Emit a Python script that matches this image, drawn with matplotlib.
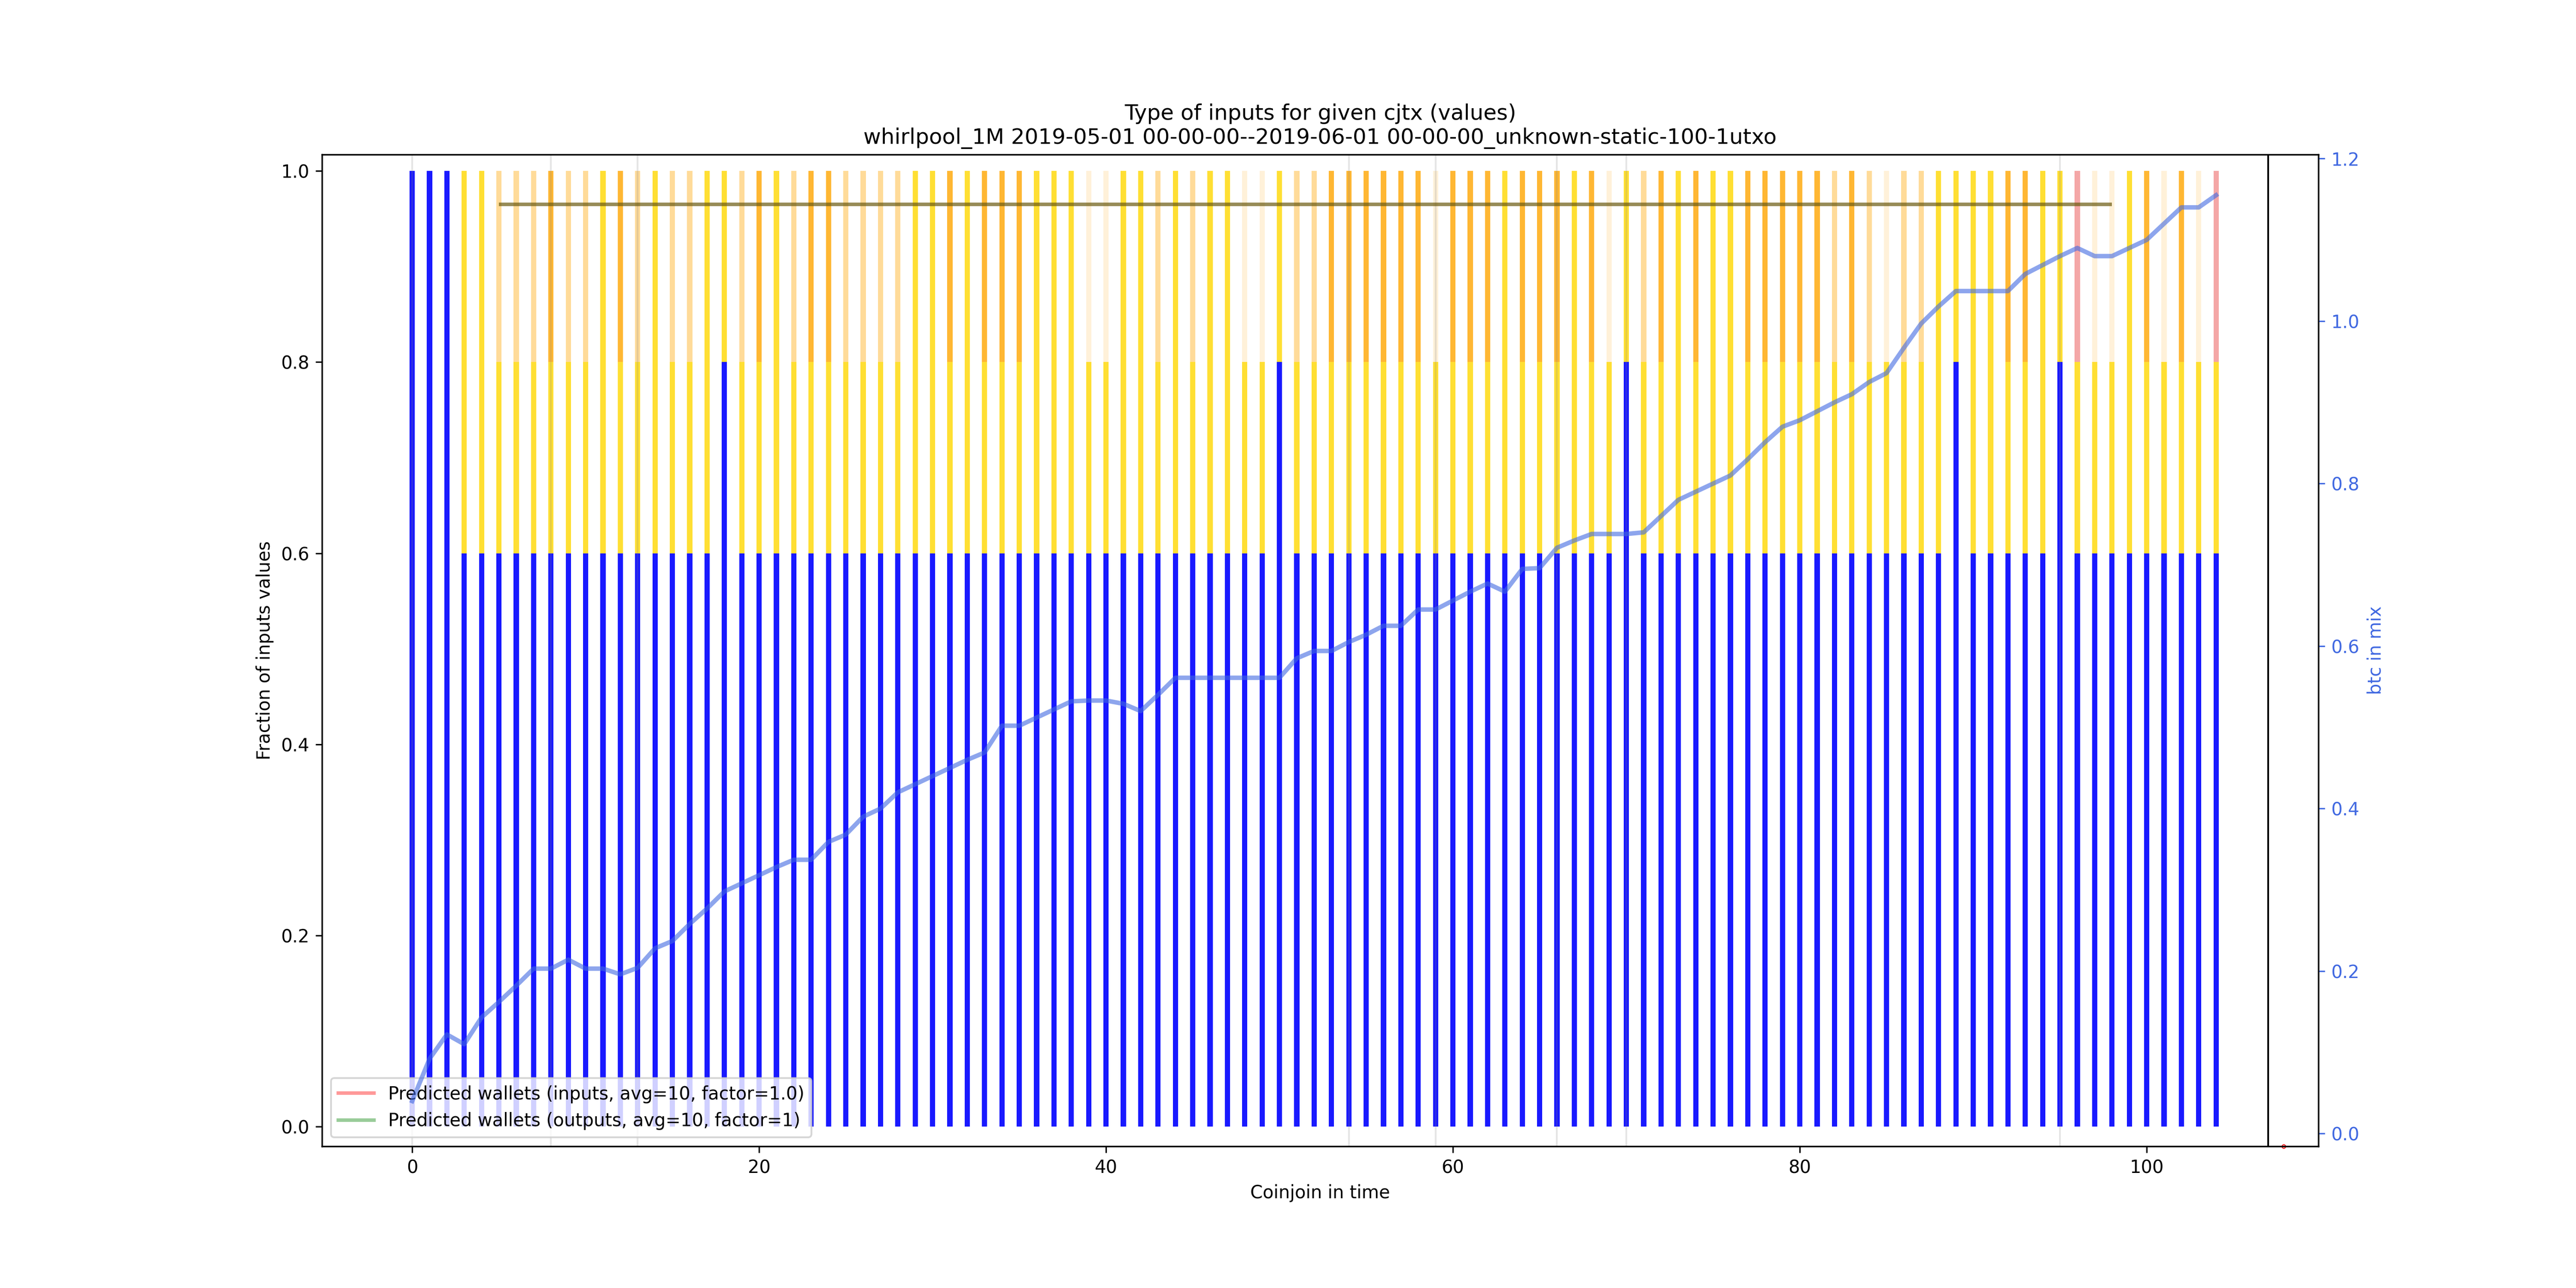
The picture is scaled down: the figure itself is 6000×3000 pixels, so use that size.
import numpy as np
import matplotlib
matplotlib.use('Agg')
import matplotlib.pyplot as plt

################################## DATA ##################################

title = ('Type of inputs for given cjtx (values)\n'
         'whirlpool_1M 2019-05-01 00-00-00--2019-06-01 00-00-00_unknown-static-100-1utxo')

# coinjoin index
cjtx = np.arange(105)

# fraction of blue (remix) inputs per coinjoin
blue_frac = [0.6] * 105
for i in (0, 1, 2):
    blue_frac[i] = 1.0
for i in (18, 50, 70, 89, 95):
    blue_frac[i] = 0.8

# colour class of the top part of each bar (B = none, G = gold, L = light orange,
# O = orange, P = very light orange, R = pink)
top_class = ("BBBGGLLLOLLGOLGLLGGLOGLOOL"
             "LLLGGOGOOOGGGPPGGLGLGGPPGLL"
             "OOOOOOPOOOGOOOGOPGLOGOGGOO"
             "OOOLOLPLLGGGGOOGGRPPGOPOPR")

# btc in mix (right axis)
btc_in_mix = [0.04, 0.092, 0.122, 0.110, 0.143, 0.162, 0.182, 0.203, 0.203, 0.214,
              0.203, 0.203, 0.196, 0.204, 0.228, 0.237, 0.258, 0.277, 0.298, 0.308,
              0.318, 0.328, 0.337, 0.337, 0.359, 0.368, 0.390, 0.400, 0.420, 0.430,
              0.440, 0.450, 0.460, 0.469, 0.502, 0.502, 0.512, 0.522, 0.532, 0.533,
              0.533, 0.529, 0.520, 0.540, 0.561, 0.561, 0.561, 0.561, 0.561, 0.561,
              0.561, 0.585, 0.594, 0.594, 0.605, 0.614, 0.625, 0.625, 0.645, 0.645,
              0.656, 0.667, 0.677, 0.667, 0.695, 0.696, 0.721, 0.730, 0.738, 0.738,
              0.738, 0.740, 0.760, 0.780, 0.790, 0.800, 0.810, 0.830, 0.851, 0.870,
              0.878, 0.889, 0.900, 0.910, 0.925, 0.936, 0.967, 0.997, 1.018, 1.037,
              1.037, 1.037, 1.037, 1.058, 1.069, 1.080, 1.090, 1.080, 1.080, 1.090,
              1.100, 1.120, 1.140, 1.140, 1.155]

# coinjoins marked with thin grey lines
marked_cjtx = [0, 8, 13, 54, 59, 66, 70, 95]

################################## STYLE ##################################

top_styles = {'G': ('gold', 0.8), 'L': ('orange', 0.4), 'O': ('orange', 0.8),
              'P': ('orange', 0.15), 'R': ('lightcoral', 0.7)}

################################## PLOT ##################################

fig, ax = plt.subplots(figsize=(20, 10), dpi=300)

blue_frac = np.array(blue_frac)
gold_frac = np.where(blue_frac < 0.8, 0.8 - blue_frac, 0.0)
top_frac = 1.0 - blue_frac

ax.bar(cjtx, blue_frac, width=0.3, color='blue', alpha=0.9)
ax.bar(cjtx, gold_frac, bottom=blue_frac, width=0.3, color='gold', alpha=0.8)
for key, (col, a) in top_styles.items():
    sel = np.array([c == key for c in top_class])
    ax.bar(cjtx[sel], np.full(sel.sum(), 0.2), bottom=0.8, width=0.3,
           color=col, alpha=a, linewidth=0)

for m in marked_cjtx:
    ax.axvline(m, color='gray', alpha=0.2, lw=1)

ax.hlines(0.965, 5, 98, color='#6b5a10', alpha=0.7, lw=2)
ax.axvline(107.0, color='black', lw=1)
ax.plot([107.9], [-0.0207], 'o', color='red', mfc='none', ms=2, mew=0.5, clip_on=False)

ax.plot([], [], color='red', alpha=0.4, lw=2,
        label='Predicted wallets (inputs, avg=10, factor=1.0)')
ax.plot([], [], color='green', alpha=0.4, lw=2,
        label='Predicted wallets (outputs, avg=10, factor=1)')
ax.legend(loc='lower left')

ax.set_xlim(-5.2, 109.9)
ax.set_ylim(-0.0207, 1.0172)
ax.set_title(title)
ax.set_xlabel('Coinjoin in time')
ax.set_ylabel('Fraction of inputs values')

ax2 = ax.twinx()
ax2.plot(cjtx, btc_in_mix, color='royalblue', alpha=0.6, lw=2.5)
ax2.set_ylim(-0.0157, 1.205)
ax2.set_ylabel('btc in mix', color='royalblue')
ax2.tick_params(axis='y', colors='royalblue')

fig.savefig('out.png')
